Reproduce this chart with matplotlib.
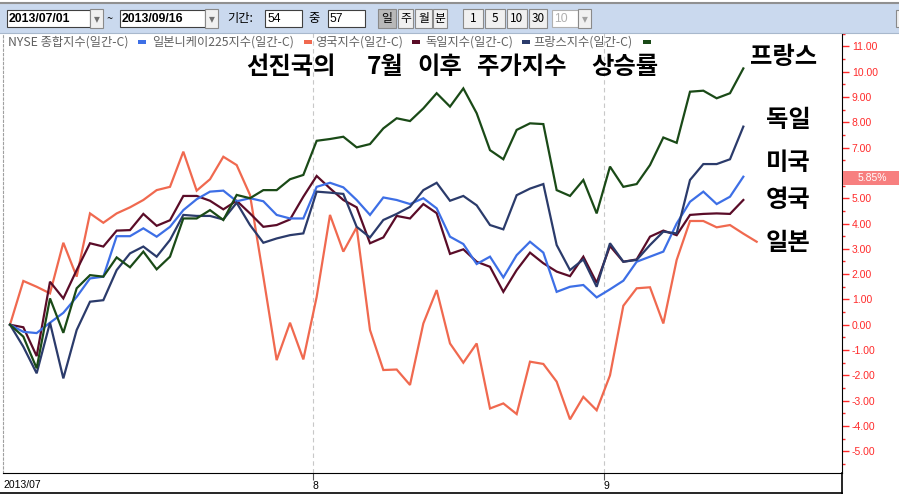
import matplotlib.pyplot as plt
import numpy as np
from matplotlib.patches import Rectangle
from matplotlib.lines import Line2D
from matplotlib.ticker import MultipleLocator, FuncFormatter

plt.rcParams['font.family'] = ['Noto Sans CJK KR', 'DejaVu Sans']

# -------------------------------
# Data: % change since 2013/07/01 (one value per trading day)
# -------------------------------
us = [0, -0.28, -0.33, 0.08, 0.47, 1.1, 1.83, 1.9, 3.5, 3.5, 3.81, 3.48, 3.87, 4.53, 4.96,
      5.26, 5.3, 4.88, 5.0, 4.88, 4.34, 4.2, 4.2, 5.45, 5.61, 5.43, 4.93, 4.34, 5.03, 4.93,
      4.77, 5.0, 4.6, 3.48, 3.19, 2.4, 2.69, 1.87, 2.75, 3.28, 2.85, 1.3, 1.5, 1.57, 1.08,
      1.4, 1.74, 2.49, 2.69, 2.89, 4.0, 4.86, 5.26, 4.77, 5.06, 5.85]
japan = [0, 1.73, 1.5, 1.24, 3.24, 1.9, 4.4, 4.03, 4.4, 4.64, 4.93, 5.32, 5.45, 6.84, 5.3,
         5.75, 6.64, 6.31, 5.13, 1.9, -1.4, 0.08, -1.37, 1.1, 4.34, 2.89, 3.85, -0.21, -1.79,
         -1.77, -2.38, 0.05, 1.37, -0.74, -1.5, -0.74, -3.31, -3.11, -3.53, -1.46, -1.55,
         -2.25, -3.74, -2.85, -3.38, -2.0, 0.75, 1.44, 1.48, 0.05, 2.56, 4.1, 4.1, 3.85,
         3.94, 3.6, 3.28]
uk = [0, -0.1, -1.24, 1.7, 1.04, 2.16, 3.22, 3.09, 3.72, 3.74, 4.38, 3.91, 4.13, 5.09, 5.09,
      4.9, 4.56, 4.9, 4.4, 3.87, 3.94, 4.16, 5.06, 5.88, 5.39, 4.93, 4.64, 3.22, 3.45, 4.3,
      4.2, 4.77, 4.41, 2.8, 2.98, 2.49, 2.29, 1.3, 2.16, 2.85, 2.43, 2.1, 1.92, 2.69, 1.66,
      3.11, 2.49, 2.58, 3.48, 3.72, 3.54, 4.34, 4.38, 4.4, 4.38, 4.93]
germany = [0, -0.87, -1.92, 0.08, -2.12, -0.21, 0.91, 0.97, 2.16, 2.82, 3.09, 2.69, 3.35, 4.34,
           4.3, 4.3, 4.16, 4.82, 3.94, 3.24, 3.41, 3.54, 3.61, 5.26, 5.22, 5.17, 3.87, 3.45,
           4.14, 4.38, 4.66, 5.32, 5.61, 4.9, 5.09, 4.72, 3.94, 3.77, 5.12, 5.38, 5.56, 3.15,
           2.16, 2.58, 1.5, 3.22, 2.49, 2.56, 3.15, 3.68, 3.61, 5.72, 6.35, 6.35, 6.54, 7.83]
france = [0, -0.47, -1.72, 1.04, -0.32, 1.44, 1.96, 1.9, 2.66, 2.27, 2.89, 2.19, 2.69, 4.2,
          4.2, 4.53, 4.14, 5.13, 5.0, 5.32, 5.32, 5.75, 5.92, 7.27, 7.34, 7.43, 7.01, 7.14,
          7.76, 8.16, 8.05, 8.55, 9.15, 8.62, 9.34, 8.36, 6.9, 6.54, 7.7, 7.96, 7.93, 5.32,
          5.09, 5.72, 4.4, 6.25, 5.45, 5.56, 6.31, 7.4, 7.19, 9.21, 9.25, 8.95, 9.15, 10.13]

month_pos = [22.7, 44.55]
month_labels = ["8", "9"]
last_value = 5.85  # badge on the right axis (NYSE)

series_names = ["NYSE 종합지수(일간-C)", "일본니케이225지수(일간-C)", "영국지수(일간-C)",
                "독일지수(일간-C)", "프랑스지수(일간-C)"]
country_names = ["프랑스", "독일", "미국", "영국", "일본"]
title_words = ["선진국의", "7월", "이후", "주가지수", "상승률"]

# -------------------------------
# Styling
# -------------------------------
c_us = "#3d6fe6"
c_japan = "#f0694f"
c_uk = "#5a0c28"
c_germany = "#2b3b6b"
c_france = "#1a4a17"
c_axis_txt = "#ff2a2a"

W, H = 899, 494
fig = plt.figure(figsize=(W / 100, H / 100), dpi=100)
fig.patch.set_facecolor("white")


def fx(px):
    return px / W


def fy(py):
    return 1 - py / H


# -------------------------------
# Main axes
# -------------------------------
ax = fig.add_axes([fx(3), fy(473), fx(842) - fx(3), fy(33) - fy(473)])
for vals, col in [(japan, c_japan), (uk, c_uk), (us, c_us), (germany, c_germany), (france, c_france)]:
    ax.plot(np.arange(len(vals)), vals, color=col, lw=1.6, solid_joinstyle="miter")

ax.set_xlim(-0.525, 62.4)
ax.set_ylim(-5.86, 11.53)


def ylab(v, pos):
    # the 6.00 label sits under the value badge in the original
    if abs(v - round(last_value)) < 1e-6:
        return ""
    return f"{v:.2f}"


ax.yaxis.tick_right()
ax.yaxis.set_major_locator(MultipleLocator(1))
ax.yaxis.set_minor_locator(MultipleLocator(0.5))
ax.yaxis.set_major_formatter(FuncFormatter(ylab))
ax.tick_params(axis="y", which="major", length=5, width=1, color=c_axis_txt,
               labelcolor=c_axis_txt, labelsize=7.5, pad=2)
ax.tick_params(axis="y", which="minor", length=2.5, width=1, color=c_axis_txt)
for lab in ax.get_yticklabels():
    lab.set_fontfamily("Liberation Sans")

ax.set_xticks(month_pos)
ax.set_xticklabels(month_labels)
ax.tick_params(axis="x", length=5, width=0.8, color="#555555", labelsize=7.5, pad=1)
for lab in ax.get_xticklabels():
    lab.set_horizontalalignment("left")
    lab.set_fontfamily("Liberation Sans")
ax.grid(axis="x", linestyle=(0, (4, 3)), color="#c8c8c8", lw=0.8)

ax.spines["top"].set_visible(False)
ax.spines["left"].set_linestyle((0, (2, 2)))
ax.spines["left"].set_color("#a0a0a0")
ax.spines["right"].set_color("black")
ax.spines["bottom"].set_color("black")

fig.text(fx(3), fy(485), "2013/07", fontsize=7.5, family="Liberation Sans",
         va="center", ha="left")

# value badge
fig.patches.append(Rectangle((fx(843), fy(185)), fx(899) - fx(843), fy(171) - fy(185),
                             transform=fig.transFigure, facecolor="#f77f7f", edgecolor="none"))
fig.text(fx(872), fy(178), f"{last_value:.2f}%", color="white", fontsize=7.5,
         family="Liberation Sans", ha="center", va="center")

# bottom frame
fig.add_artist(Line2D([fx(842), fx(842)], [fy(473), fy(494)], color="black", lw=1.2))
fig.add_artist(Line2D([0, fx(842)], [fy(493), fy(493)], color="black", lw=1.2))

# -------------------------------
# Title and country labels
# -------------------------------
title_x = [246, 367, 417, 477, 591]
for word, x0 in zip(title_words, title_x):
    fig.text(fx(x0), fy(67), word, fontsize=17.5, fontweight="bold", ha="left", va="center")

label_pos = [(750, 57), (766, 120), (766, 163), (766, 200), (766, 243)]
for name, (px, py) in zip(country_names, label_pos):
    fig.text(fx(px), fy(py), name, fontsize=17.5, fontweight="bold", ha="left", va="center")

# -------------------------------
# Legend row
# -------------------------------
legend_x = [8, 152, 315, 425, 533]
dash_x = [138, 304, 412, 522, 643]
colors = [c_us, c_japan, c_uk, c_germany, c_france]
for name, x0, dx, col in zip(series_names, legend_x, dash_x, colors):
    fig.text(fx(x0), fy(42), name, fontsize=8.8, color="#606060", ha="left", va="center")
    fig.patches.append(Rectangle((fx(dx), fy(44)), fx(8), fy(40) - fy(44),
                                 transform=fig.transFigure, facecolor=col, edgecolor="none"))

# -------------------------------
# Toolbar
# -------------------------------
fig.patches.append(Rectangle((0, fy(33)), 1, fy(3) - fy(33), transform=fig.transFigure,
                             facecolor="#cad9ee", edgecolor="none"))
fig.add_artist(Line2D([0, 1], [fy(3), fy(3)], color="#909090", lw=1.5))
fig.add_artist(Line2D([0, 1], [fy(33), fy(33)], color="#a8b8cc", lw=0.8))


def box(x0, x1, text, txtcolor="black", face="white", edge="#404040", bold=False):
    fig.patches.append(Rectangle((fx(x0), fy(27)), fx(x1 - x0), fy(10) - fy(27),
                                 transform=fig.transFigure, facecolor=face, edgecolor=edge, lw=0.8))
    if text:
        fig.text(fx(x0 + 2), fy(18.5), text, fontsize=8.8, color=txtcolor, ha="left", va="center",
                 fontweight="bold" if bold else "normal", family=["Liberation Sans", "Noto Sans CJK KR"])


def button(x0, x1, text, face="#f0f0f0", txtcolor="black"):
    fig.patches.append(Rectangle((fx(x0), fy(28)), fx(x1 - x0), fy(9) - fy(28),
                                 transform=fig.transFigure, facecolor=face, edgecolor="#8a8a8a", lw=0.8))
    fig.text(fx((x0 + x1) / 2), fy(18.5), text, fontsize=8.5, color=txtcolor, ha="center", va="center")


box(7, 90, "2013/07/01", bold=True)
button(90, 103, "▾", txtcolor="#707070")
fig.text(fx(110), fy(19), "~", fontsize=8, ha="center", va="center")
box(120, 205, "2013/09/16", bold=True)
button(205, 218, "▾", txtcolor="#707070")
fig.text(fx(227), fy(18.5), "기간:", fontsize=8.8, ha="left", va="center")
box(265, 302, "54")
fig.text(fx(308), fy(18.5), "중", fontsize=8.8, ha="left", va="center")
box(328, 365, "57")
button(378, 396, "일", face="#b8b8b8")
for x0, x1, t in [(398, 413, "주"), (415, 432, "월"), (433, 447, "분"),
                  (463, 483, "1"), (485, 505, "5"), (507, 527, "10"), (529, 547, "30")]:
    button(x0, x1, t)
box(552, 578, "10", txtcolor="#b0b0b0", edge="#b0b0b0")
button(578, 591, "▾", txtcolor="#a0a0a0")
fig.patches.append(Rectangle((fx(896), fy(27)), fx(10), fy(10) - fy(27),
                             transform=fig.transFigure, facecolor="#f0f0f0", edgecolor="#8a8a8a", lw=0.8))

fig.savefig("out.png", dpi=100)
plt.close(fig)
